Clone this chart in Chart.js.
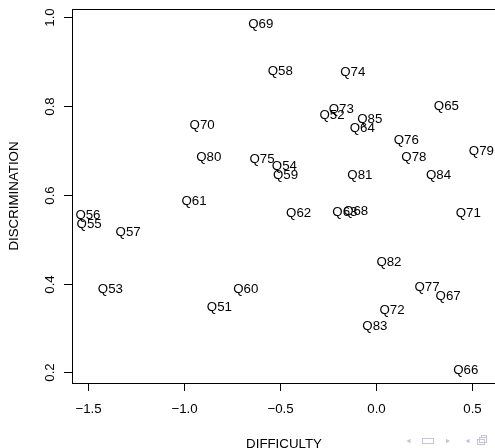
<!DOCTYPE html>
<html>
<head>
<meta charset="utf-8">
<script src="https://cdn.jsdelivr.net/npm/chart.js@4"></script>
<style>
  html, body { margin: 0; padding: 0; background: #fff; overflow: hidden; }
  #wrap { width: 497px; height: 448px; }
</style>
</head>
<body>
<div id="wrap"><canvas id="irtChart"></canvas></div>
<script>
const items = ['Q51','Q52','Q53','Q54','Q55','Q56','Q57','Q58','Q59','Q60',
               'Q61','Q62','Q63','Q64','Q65','Q66','Q67','Q68','Q69','Q70',
               'Q71','Q72','Q73','Q74','Q75','Q76','Q77','Q78','Q79','Q80',
               'Q81','Q82','Q83','Q84','Q85'];
const difficulty = [-0.816,-0.230,-1.383,-0.478,-1.494,-1.500,-1.291,-0.499,-0.472,-0.679,
                    -0.948,-0.404,-0.163,-0.073, 0.365, 0.466, 0.374,-0.107,-0.601,-0.906,
                     0.479, 0.082,-0.182,-0.122,-0.594, 0.156, 0.264, 0.196, 0.547,-0.871,
                    -0.085, 0.066,-0.007, 0.324,-0.034];
const discrimination = [0.350,0.781,0.389,0.667,0.535,0.556,0.517,0.881,0.647,0.389,
                        0.587,0.560,0.562,0.752,0.801,0.208,0.374,0.565,0.986,0.759,
                        0.560,0.343,0.796,0.879,0.683,0.725,0.394,0.688,0.701,0.686,
                        0.646,0.450,0.307,0.646,0.772];
const xTicks = [-1.5, -1.0, -0.5, 0.0, 0.5];
const yTicks = [0.2, 0.4, 0.6, 0.8, 1.0];

const FONT = '13.3px "Liberation Sans", Arial, sans-serif';

// R-style base plot: box, outside ticks, rotated y labels, text markers
const rPlot = {
  id: 'rPlot',
  afterDraw(chart) {
    const { ctx, chartArea: a, scales: { x, y } } = chart;
    ctx.save();
    ctx.strokeStyle = '#000';
    ctx.fillStyle = '#000';
    ctx.lineWidth = 1;
    ctx.font = FONT;

    // box
    ctx.strokeRect(Math.round(a.left) + 0.5, Math.round(a.top) + 0.5,
                   Math.round(a.right - a.left), Math.round(a.bottom - a.top));

    // x axis
    ctx.textAlign = 'center';
    ctx.textBaseline = 'alphabetic';
    xTicks.forEach(v => {
      const px = Math.round(x.getPixelForValue(v)) + 0.5;
      ctx.beginPath();
      ctx.moveTo(px, a.bottom);
      ctx.lineTo(px, a.bottom + 8);
      ctx.stroke();
      ctx.fillText(v.toFixed(1).replace('-', '\u2212'), px, 413);
    });

    // y axis
    yTicks.forEach(v => {
      const py = Math.round(y.getPixelForValue(v)) + 0.5;
      ctx.beginPath();
      ctx.moveTo(a.left, py);
      ctx.lineTo(a.left - 8, py);
      ctx.stroke();
      ctx.save();
      ctx.translate(53.5, py);
      ctx.rotate(-Math.PI / 2);
      ctx.fillText(v.toFixed(1), 0, 0);
      ctx.restore();
    });

    // axis titles
    ctx.fillText('DIFFICULTY', (a.left + a.right) / 2, 447.5);
    ctx.save();
    ctx.translate(18, (a.top + a.bottom) / 2);
    ctx.rotate(-Math.PI / 2);
    ctx.fillText('DISCRIMINATION', 0, 0);
    ctx.restore();

    // item labels centred on each point
    const meta = chart.getDatasetMeta(0);
    meta.data.forEach((pt, i) => {
      ctx.fillText(items[i], pt.x, pt.y + 4.8);
    });

    // beamer navigation symbols
    ctx.fillStyle = '#c4c4da';
    ctx.strokeStyle = '#c4c4da';
    const tri = (x0, x1, yc, h) => {
      ctx.beginPath();
      ctx.moveTo(x0, yc);
      ctx.lineTo(x1, yc - h);
      ctx.lineTo(x1, yc + h);
      ctx.closePath();
      ctx.fill();
    };
    tri(406.5, 410.5, 441, 2.3);
    ctx.strokeRect(422.5, 438.5, 11, 5);
    tri(450, 446, 441, 2.3);
    tri(465.5, 469.5, 441, 2.3);
    ctx.strokeRect(477.5, 439.5, 7, 5);
    ctx.strokeRect(479.5, 437.5, 7, 5);
    ctx.strokeRect(481.5, 435.5, 5, 2);
    ctx.restore();
  }
};

new Chart(document.getElementById('irtChart'), {
  type: 'scatter',
  data: {
    datasets: [{
      data: difficulty.map((d, i) => ({ x: d, y: discrimination[i] })),
      pointRadius: 0,
      pointHoverRadius: 0
    }]
  },
  options: {
    responsive: true,
    maintainAspectRatio: false,
    animation: false,
    events: [],
    layout: { padding: { left: 72, top: 9, right: 1, bottom: 65 } },
    scales: {
      x: { type: 'linear', min: -1.583, max: 0.623, display: false },
      y: { type: 'linear', min: 0.176, max: 1.0185, display: false }
    },
    plugins: {
      legend: { display: false },
      tooltip: { enabled: false }
    }
  },
  plugins: [rPlot]
});
</script>
</body>
</html>
